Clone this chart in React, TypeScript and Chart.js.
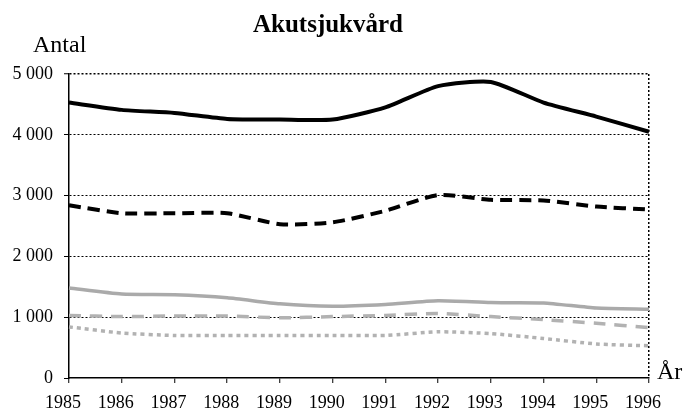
import React, { useEffect, useRef } from "react";
import { Chart, registerables } from "chart.js";

Chart.register(...registerables);

const years = ["1985", "1986", "1987", "1988", "1989", "1990", "1991", "1992", "1993", "1994", "1995", "1996"];
const blackSolid = [4530, 4410, 4360, 4260, 4250, 4250, 4450, 4800, 4870, 4530, 4300, 4050];
const blackDashed = [2840, 2710, 2710, 2710, 2530, 2560, 2750, 3010, 2930, 2920, 2820, 2770];
const greySolid = [1480, 1380, 1370, 1320, 1220, 1180, 1210, 1270, 1240, 1235, 1150, 1130];
const greyDashed = [1030, 1010, 1020, 1020, 990, 1010, 1030, 1060, 1010, 960, 900, 830];
const greyDotted = [840, 740, 700, 700, 700, 700, 700, 760, 730, 650, 560, 530];
const yTicks = [0, 1000, 2000, 3000, 4000, 5000];

const FONT = "'Liberation Serif', 'Times New Roman', serif";

const fmt = (v: number) => {
  const s = String(v);
  return s.length > 3 ? s.slice(0, s.length - 3) + " " + s.slice(-3) : s;
};

const textPlugin = {
  id: "texts",
  afterDraw(chart: any) {
    const ctx = chart.ctx;
    ctx.save();
    ctx.fillStyle = "#000";
    ctx.textBaseline = "alphabetic";
    ctx.font = `bold 25px ${FONT}`;
    ctx.textAlign = "center";
    ctx.fillText("Akutsjukvård", 328, 32);
    ctx.font = `24px ${FONT}`;
    ctx.textAlign = "left";
    ctx.fillText("Antal", 33, 52);
    ctx.fillText("År", 657, 379);
    ctx.restore();
  },
};

export default function App() {
  const ref = useRef<HTMLCanvasElement>(null);
  useEffect(() => {
    const grey = "#aaaaaa";
    const chart = new Chart(ref.current!, {
      type: "line",
      data: {
        labels: years,
        datasets: [
          { data: blackSolid, borderColor: "#000", borderWidth: 4, tension: 0.2 },
          { data: blackDashed, borderColor: "#000", borderWidth: 4, borderDash: [12, 7], tension: 0.2 },
          { data: greySolid, borderColor: grey, borderWidth: 3.5, tension: 0.2 },
          { data: greyDashed, borderColor: "#b2b2b2", borderWidth: 3.5, borderDash: [12, 9], tension: 0.2 },
          { data: greyDotted, borderColor: "#b2b2b2", borderWidth: 3.5, borderDash: [4, 4], tension: 0.2 },
        ].map((d) => ({ ...d, pointRadius: 0, fill: false, borderCapStyle: "butt" as const })),
      },
      options: {
        animation: false,
        responsive: false,
        devicePixelRatio: 1,
        layout: { padding: { top: 74, right: 36, left: 0, bottom: 0 }, autoPadding: false },
        plugins: { legend: { display: false }, tooltip: { enabled: false }, title: { display: false } },
        scales: {
          x: {
            type: "category",
            offset: false,
            afterFit: (s: any) => { s.height = 34; },
            border: { display: true, color: "#000", width: 1.5, dash: [2, 2] },
            grid: {
              color: (c: any) => (c.index === years.length - 1 ? "#000" : "rgba(0,0,0,0)"),
              lineWidth: 1.5,
              tickColor: "#000",
              tickLength: 5,
              tickBorderDash: [],
              tickWidth: 1,
            },
            ticks: {
              color: "#000",
              font: { family: FONT, size: 18 },
              padding: 9,
              labelOffset: -6,
              maxRotation: 0,
              autoSkip: false,
            },
          },
          y: {
            min: 0,
            max: 5000,
            afterFit: (s: any) => { s.width = 69; },
            afterBuildTicks: (s: any) => { s.ticks = yTicks.map((v) => ({ value: v })); },
            border: { display: true, color: "#000", width: 1.5, dash: [2, 2] },
            grid: {
              color: (c: any) => (c.index === 0 ? "rgba(0,0,0,0)" : "#000"),
              lineWidth: (c: any) => (c.index === yTicks.length - 1 ? 1.5 : 1),
              tickColor: "#000",
              tickLength: 5,
              tickBorderDash: [],
              tickWidth: 1,
            },
            ticks: {
              color: "#000",
              font: { family: FONT, size: 18 },
              padding: 11,
              callback: (v: any) => fmt(Number(v)),
            },
          },
        },
      },
      plugins: [textPlugin],
    });
    return () => chart.destroy();
  }, []);
  return (
    <div style={{ position: "fixed", left: 0, top: 0, width: 685, height: 412, background: "#fff" }}>
      <canvas ref={ref} width={685} height={412} style={{ display: "block" }} />
    </div>
  );
}
